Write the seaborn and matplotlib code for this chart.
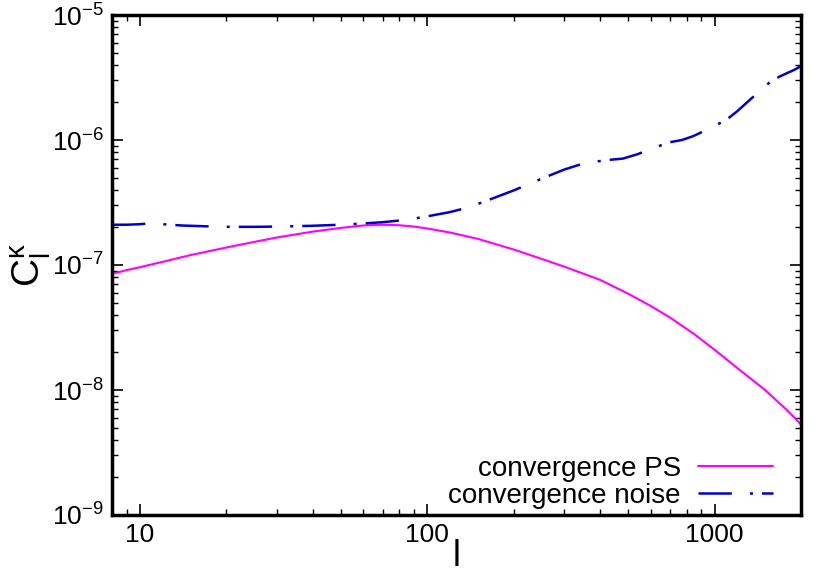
import numpy as np
import pandas as pd
import matplotlib
matplotlib.use("Agg")
import matplotlib.pyplot as plt
import seaborn as sns
from matplotlib.ticker import LogLocator, LogFormatterMathtext, NullFormatter, FuncFormatter

# --- data ---
ell_ps = [8, 9, 10, 12, 15, 20, 25, 30, 40, 50, 60, 70, 80, 90, 100, 120, 150, 200, 250, 300,
          400, 500, 600, 700, 850, 1000, 1200, 1500, 1800, 2000]
cl_ps = [8.5e-8, 9.1e-8, 9.6e-8, 1.06e-7, 1.2e-7, 1.38e-7, 1.53e-7, 1.66e-7, 1.85e-7, 1.98e-7,
         2.07e-7, 2.1e-7, 2.08e-7, 2.03e-7, 1.96e-7, 1.82e-7, 1.62e-7, 1.33e-7, 1.12e-7, 9.7e-8,
         7.6e-8, 5.9e-8, 4.7e-8, 3.8e-8, 2.8e-8, 2.1e-8, 1.5e-8, 1.0e-8, 6.8e-9, 5.3e-9]

ell_noise = [8, 9, 10, 11, 12, 14, 17, 20, 25, 30, 40, 50, 60, 70, 85, 100, 120, 140, 160, 200,
             250, 300, 350, 420, 480, 540, 610, 700, 770, 840, 950, 1100, 1200, 1350, 1500,
             1590, 1700, 1800, 1900, 2000]
cl_noise = [2.1e-7, 2.1e-7, 2.12e-7, 2.16e-7, 2.12e-7, 2.07e-7, 2.04e-7, 2.02e-7, 2.02e-7,
            2.03e-7, 2.06e-7, 2.1e-7, 2.15e-7, 2.2e-7, 2.3e-7, 2.45e-7, 2.65e-7, 2.9e-7, 3.25e-7,
            3.95e-7, 4.9e-7, 5.8e-7, 6.5e-7, 6.9e-7, 7.1e-7, 7.7e-7, 8.6e-7, 9.6e-7, 1.0e-6,
            1.07e-6, 1.22e-6, 1.45e-6, 1.7e-6, 2.17e-6, 2.7e-6, 3.0e-6, 3.25e-6, 3.45e-6,
            3.65e-6, 3.9e-6]

labels = ["convergence PS", "convergence noise"]
x_label = "l"
y_label = r"C$_{\mathregular{l}}^{\mathregular{\kappa}}$"

sns.set_theme(style="ticks")
plt.rcParams['font.family'] = ['Liberation Sans', 'DejaVu Sans']
plt.rcParams['mathtext.fontset'] = 'custom'
plt.rcParams['mathtext.rm'] = 'Liberation Sans'
plt.rcParams['mathtext.it'] = 'Liberation Sans'
plt.rcParams['mathtext.default'] = 'regular'
plt.rcParams['lines.scale_dashes'] = False
plt.rcParams['text.color'] = 'black'
plt.rcParams['axes.labelcolor'] = 'black'

fig = plt.figure(figsize=(8.3, 5.81), dpi=100)
ax = fig.add_axes([112 / 830, 1 - 515 / 581, (801 - 112) / 830, 500 / 581])

sns.lineplot(x=ell_ps, y=cl_ps, ax=ax, color="#ff00ff", lw=1.5, label=labels[0])
sns.lineplot(x=ell_noise, y=cl_noise, ax=ax, color="#0000d0", lw=1.8, label=labels[1])
ax.lines[1].set_dashes([24, 13, 2.2, 6.5])

ax.set_xscale("log")
ax.set_yscale("log")
ax.set_xlim(8, 2000)
ax.set_ylim(1e-9, 1e-5)

ax.xaxis.set_major_locator(LogLocator(base=10, numticks=10))
ax.xaxis.set_minor_locator(LogLocator(base=10, subs=np.arange(2, 10), numticks=20))
ax.xaxis.set_minor_formatter(NullFormatter())
ax.xaxis.set_major_formatter(FuncFormatter(lambda v, p: f"{int(round(v))}"))
ax.yaxis.set_major_locator(LogLocator(base=10, numticks=10))
ax.yaxis.set_minor_locator(LogLocator(base=10, subs=np.arange(2, 10), numticks=20))
ax.yaxis.set_minor_formatter(NullFormatter())
ax.yaxis.set_major_formatter(LogFormatterMathtext())

ax.tick_params(which="both", direction="in", top=True, right=True, colors="black",
               labelsize=19)
ax.tick_params(which="major", length=8, width=1.2, pad=6)
ax.tick_params(which="minor", length=4.5, width=1.0)
for s in ax.spines.values():
    s.set_linewidth(2.5)
    s.set_color("black")

ax.set_xlabel(x_label, fontsize=26, labelpad=-6, color="black")
ax.set_ylabel(y_label, fontsize=28, labelpad=-1, color="black")

leg = ax.legend(loc="lower right", frameon=False, markerfirst=False, fontsize=20,
                handlelength=2.7, handletextpad=0.6, labelspacing=0.05,
                borderaxespad=0.0, bbox_to_anchor=(0.975, -0.01), labelcolor="black")

fig.savefig("out.png", dpi=100)
